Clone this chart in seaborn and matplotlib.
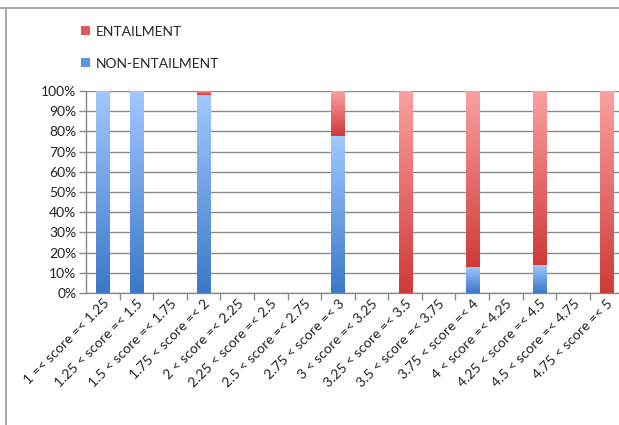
import numpy as np
import matplotlib
matplotlib.use("Agg")
import matplotlib.pyplot as plt
from matplotlib.colors import LinearSegmentedColormap
from matplotlib.lines import Line2D
from matplotlib.patches import Patch
import seaborn as sns

categories = [
    "1 =< score =< 1.25", "1.25 < score =< 1.5", "1.5 < score =< 1.75",
    "1.75 < score =< 2", "2 < score =< 2.25", "2.25 < score =< 2.5",
    "2.5 < score =< 2.75", "2.75 < score =< 3", "3 < score =< 3.25",
    "3.25 < score =< 3.5", "3.5 < score =< 3.75", "3.75 < score =< 4",
    "4 < score =< 4.25", "4.25 < score =< 4.5", "4.5 < score =< 4.75",
    "4.75 < score =< 5",
]
non_entailment = [100, 100, 0, 98, 0, 0, 0, 78, 0, 0, 0, 13, 0, 14, 0, 0]
entailment = [0, 0, 0, 2, 0, 0, 0, 22, 0, 100, 0, 87, 0, 86, 0, 100]
series_names = ["ENTAILMENT", "NON-ENTAILMENT"]
y_ticks = list(range(0, 101, 10))

totals = [a + b for a, b in zip(non_entailment, entailment)]

sns.set_style("white")
plt.rcParams["font.family"] = ["Lato", "DejaVu Sans"]

fig = plt.figure(figsize=(6.19, 4.25), dpi=100)
ax = fig.add_axes([0.139, 0.3106, 0.868, 0.475])

blue_cmap = LinearSegmentedColormap.from_list("blue", ["#3b78c8", "#a2c8ff"])
red_cmap = LinearSegmentedColormap.from_list("red", ["#cf3a38", "#fba0a0"])

bar_w = 0.39
# stacked: full height in red first, non-entailment share in blue over it
sns.barplot(x=categories, y=totals, color="#e06060", width=bar_w,
            ax=ax, saturation=1, zorder=3)
n_red = len(ax.patches)
sns.barplot(x=categories, y=non_entailment, color="#6a9ee6", width=bar_w,
            ax=ax, saturation=1, zorder=4)

grad = np.linspace(0, 1, 256).reshape(-1, 1)
for i, p in enumerate(ax.patches):
    is_red = i < n_red
    k = i if is_red else i - n_red
    h = p.get_height()
    if h <= 0:
        p.set_visible(False)
        continue
    x0 = p.get_x()
    w = p.get_width()
    y0 = non_entailment[k] if is_red else 0
    y1 = totals[k] if is_red else non_entailment[k]
    if y1 <= y0:
        p.set_visible(False)
        continue
    p.set_facecolor("none")
    p.set_edgecolor("none")
    im = ax.imshow(grad, cmap=red_cmap if is_red else blue_cmap,
                   extent=[x0, x0 + w, y0, y1], origin="lower",
                   aspect="auto", zorder=p.get_zorder(), interpolation="bilinear")
    im.set_clip_path(p)

ax.set_xlim(-0.5, len(categories) - 0.5)
ax.set_ylim(0, 100)
ax.set_yticks(y_ticks)
ax.set_yticklabels([f"{v}%" for v in y_ticks], fontsize=10, color="#222222")
ax.yaxis.grid(True, color="#8a8a8a", linewidth=1.0, zorder=0)
ax.set_axisbelow(True)

ax.set_xticks(range(len(categories)))
ax.set_xticklabels(categories, rotation=45, ha="right", va="top",
                   rotation_mode="anchor", fontsize=10, color="#222222")
ax.tick_params(axis="x", which="major", length=0, pad=3)
ax.set_xticks(np.arange(0.5, len(categories) - 0.5, 1), minor=True)
ax.tick_params(axis="x", which="minor", length=5, width=1, color="#8a8a8a",
               direction="out", bottom=True)
ax.tick_params(axis="y", length=5, width=1, color="#8a8a8a", direction="out",
               left=True, pad=2)

for side in ["top", "right"]:
    ax.spines[side].set_visible(False)
for side in ["left", "bottom"]:
    ax.spines[side].set_color("#8a8a8a")
    ax.spines[side].set_linewidth(1.0)

handles = [Patch(facecolor="#e05a5a", edgecolor="none"),
           Patch(facecolor="#5d95e0", edgecolor="none")]
fig.legend(handles, series_names, loc="upper left",
           bbox_to_anchor=(0.131, 0.94), frameon=False, fontsize=10,
           handlelength=0.65, handleheight=0.65, handletextpad=0.4,
           labelspacing=1.45, borderaxespad=0, borderpad=0)

# chart frame edges
fig.add_artist(Line2D([0, 1], [0.981, 0.981], transform=fig.transFigure,
                      color="#9a9a9a", linewidth=1.2))
fig.add_artist(Line2D([0.0105, 0.0105], [0, 0.981], transform=fig.transFigure,
                      color="#9a9a9a", linewidth=1.2))

fig.savefig("out.png", dpi=100)
